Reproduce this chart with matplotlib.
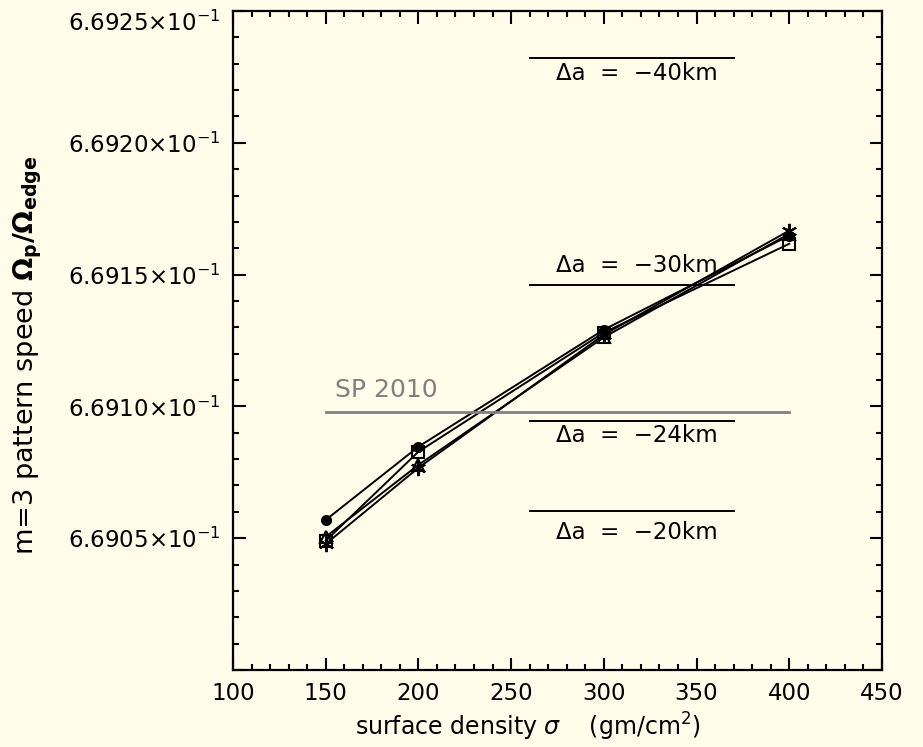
import numpy as np
import matplotlib.pyplot as plt
from matplotlib.ticker import FixedLocator, MultipleLocator, FuncFormatter

# surface density (gm/cm^2)
sigma = [150, 200, 300, 400]

# pattern speed Omega_p/Omega_edge for the four runs
speed_circle = [0.6690569, 0.6690847, 0.6691291, 0.6691648]
speed_triangle = [0.6690505, 0.6690778, 0.6691262, 0.6691655]
speed_square = [0.6690490, 0.6690828, 0.6691280, 0.6691617]
speed_star = [0.6690478, 0.6690767, 0.6691272, 0.6691667]

# reference levels for different edge offsets
delta_labels = ['\u0394a  =  \u221240km', '\u0394a  =  \u221230km',
                '\u0394a  =  \u221224km', '\u0394a  =  \u221220km']
delta_levels = [0.6692323, 0.6691462, 0.6690945, 0.6690604]
sp2010_level = 0.6690980

bg = '#fffcea'
plt.rcParams['font.family'] = ['DejaVu Sans']
plt.rcParams['mathtext.fontset'] = 'dejavusans'

fig = plt.figure(figsize=(9.23, 7.47), dpi=100, facecolor=bg)
ax = fig.add_axes([0.2524, 0.1031, 0.7032, 0.8822])
ax.set_facecolor(bg)

lw = 1.4
ax.plot(sigma, speed_circle, color='black', lw=lw, marker='o', ms=7)
ax.plot(sigma, speed_triangle, color='black', lw=lw, marker='^', ms=9,
        mfc='none', mew=1.5)
ax.plot(sigma, speed_square, color='black', lw=lw, marker='s', ms=8,
        mfc='none', mew=1.5)
ax.plot(sigma, speed_star, color='black', lw=lw, marker=(6, 2, 0), ms=11,
        mew=1.5)

# delta-a lines with labels
text_offsets = [-0.0000060, 0.0000072, -0.0000057, -0.0000084]
for lab, lev, off in zip(delta_labels, delta_levels, text_offsets):
    ax.plot([260, 370], [lev, lev], color='black', lw=lw)
    ax.text(318, lev + off, lab, fontsize=16.5, ha='center', va='center')

ax.plot([150, 400], [sp2010_level, sp2010_level], color='#808080', lw=2)
ax.text(155, sp2010_level + 0.0000083, 'SP 2010', fontsize=18,
        color='#808080', ha='left', va='center')

ax.set_xlim(100, 450)
ax.set_ylim(0.66900, 0.66925)

ax.xaxis.set_major_locator(MultipleLocator(50))
ax.xaxis.set_minor_locator(MultipleLocator(10))
ax.yaxis.set_major_locator(FixedLocator([0.66900, 0.66905, 0.66910, 0.66915, 0.66920, 0.66925]))
ax.yaxis.set_minor_locator(MultipleLocator(0.00001))


def yfmt(v, pos):
    if v < 0.669001:
        return ''
    return r'%.4f$\times$10$^{-1}$' % (v * 10)


ax.yaxis.set_major_formatter(FuncFormatter(yfmt))

ax.tick_params(which='both', direction='in', top=True, right=True,
               width=1.5, labelsize=16.5, colors='black')
ax.tick_params(which='major', length=9, pad=9)
ax.tick_params(which='minor', length=4.5)
for s in ax.spines.values():
    s.set_linewidth(1.6)

# nudge the top y label down so it stays inside the figure
ax.get_yticklabels()[-1].set_va('top')

fig.text(528 / 923, 1 - 727 / 747, r'surface density $\sigma$    (gm/cm$^2$)',
         fontsize=17, ha='center', va='center')
fig.text(28 / 923, 1 - 355 / 747,
         r'm=3 pattern speed $\mathbf{\Omega_p/\Omega_{edge}}$',
         fontsize=19.5, ha='center', va='center', rotation=90)

fig.savefig('out.png', dpi=100, facecolor=bg)
